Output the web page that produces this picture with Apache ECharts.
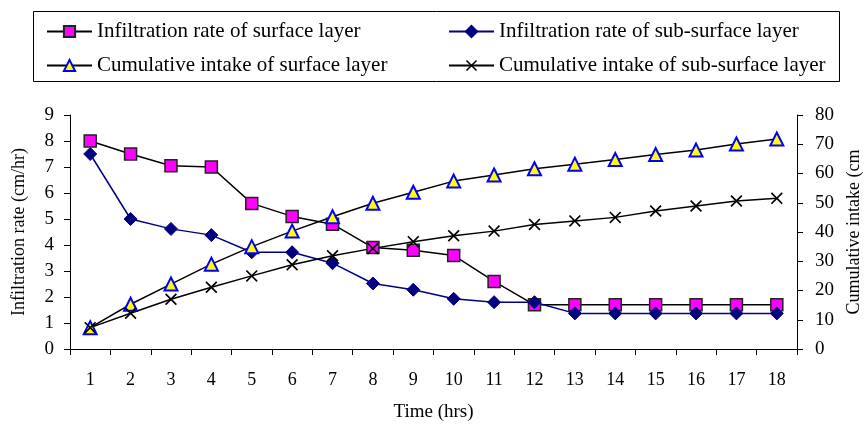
<!DOCTYPE html>
<html>
<head>
<meta charset="utf-8">
<script src="https://cdn.jsdelivr.net/npm/echarts@6/dist/echarts.min.js"></script>
<style>html,body{margin:0;padding:0;background:#fff;}#c{width:864px;height:426px;}</style>
</head>
<body>
<div id="c"></div>
<script>
const categories = ['1','2','3','4','5','6','7','8','9','10','11','12','13','14','15','16','17','18'];
const surfaceRate = [8.0, 7.5, 7.05, 7.0, 5.6, 5.1, 4.8, 3.9, 3.8, 3.6, 2.6, 1.7, 1.7, 1.7, 1.7, 1.7, 1.7, 1.7];
const subSurfaceRate = [7.5, 5.0, 4.62, 4.38, 3.72, 3.72, 3.3, 2.52, 2.28, 1.93, 1.8, 1.8, 1.37, 1.37, 1.37, 1.37, 1.37, 1.37];
const surfaceCum = [7.3, 15.3, 22.2, 29.0, 35.0, 40.3, 45.2, 49.8, 53.6, 57.4, 59.5, 61.6, 63.2, 64.8, 66.5, 68.0, 70.1, 71.8];
const subSurfaceCum = [7.3, 12.2, 17.0, 21.1, 25.0, 28.8, 31.9, 34.4, 36.7, 38.7, 40.3, 42.6, 43.8, 45.0, 47.2, 48.9, 50.6, 51.5];
const names = ['Infiltration rate of surface layer','Infiltration rate of sub-surface layer','Cumulative intake of surface layer','Cumulative intake of sub-surface layer'];

const FONT = "'Liberation Serif','Times New Roman',serif";
const xPath = 'path://M0,1L1,0L5,4L9,0L10,1L6,5L10,9L9,10L5,6L1,10L0,9L4,5Z';
const chart = echarts.init(document.getElementById('c'), null, {renderer:'canvas'});
const legendText = {fontFamily: FONT, fontSize: 21, color: '#000'};
chart.setOption({
  animation: false,
  backgroundColor: '#fff',
  textStyle: {fontFamily: FONT},
  graphic: [{type:'rect', shape:{x:33.5, y:11.5, width:806, height:70}, style:{fill:'none', stroke:'#000', lineWidth:1}, z:-1}],
  legend: [
    {left: 41, top: 16, orient: 'vertical', itemGap: 13, itemWidth: 45, itemHeight: 14, textStyle: legendText, data: [names[0], names[2]]},
    {left: 443, top: 16, orient: 'vertical', itemGap: 13, itemWidth: 45, itemHeight: 14, textStyle: legendText, data: [names[1], names[3]]}
  ],
  grid: {left: 70, right: 67, top: 115, bottom: 77, containLabel: false, outerBoundsMode: 'none'},
  xAxis: {
    type: 'category', data: categories, boundaryGap: true,
    name: 'Time (hrs)', nameLocation: 'middle', nameGap: 54,
    nameTextStyle: {fontFamily: FONT, fontSize: 19, color: '#000'},
    axisLine: {lineStyle: {color: '#000', width: 1}},
    axisTick: {show: true, length: 6, lineStyle: {color: '#000'}},
    axisLabel: {fontFamily: FONT, fontSize: 18, color: '#000', margin: 22, interval: 0}
  },
  yAxis: [
    {type: 'value', min: 0, max: 9, interval: 1, position: 'left',
     name: 'Infiltration rate (cm/hr)', nameLocation: 'middle', nameGap: 42, nameRotate: 90,
     nameTextStyle: {fontFamily: FONT, fontSize: 18, color: '#000'},
     axisLine: {show: true, lineStyle: {color: '#000'}},
     axisTick: {show: true, length: 6, lineStyle: {color: '#000'}},
     axisLabel: {fontFamily: FONT, fontSize: 19, color: '#000', margin: 16},
     splitLine: {show: false}},
    {type: 'value', min: 0, max: 80, interval: 10, position: 'right',
     name: 'Cumulative intake (cm', nameLocation: 'middle', nameGap: 48, nameRotate: 90,
     nameTextStyle: {fontFamily: FONT, fontSize: 18, color: '#000'},
     axisLine: {show: true, lineStyle: {color: '#000'}},
     axisTick: {show: true, length: 6, lineStyle: {color: '#000'}},
     axisLabel: {fontFamily: FONT, fontSize: 19, color: '#000', margin: 18},
     splitLine: {show: false}}
  ],
  series: [
    {name: names[0], type: 'line', yAxisIndex: 0, data: surfaceRate, symbol: 'rect', symbolSize: 12,
     lineStyle: {color: '#000', width: 1.5}, itemStyle: {color: '#FF00FF', borderColor: '#222', borderWidth: 1.5}},
    {name: names[1], type: 'line', yAxisIndex: 0, data: subSurfaceRate, symbol: 'diamond', symbolSize: 13,
     lineStyle: {color: '#000080', width: 1.5}, itemStyle: {color: '#000080', borderColor: '#000080', borderWidth: 1}},
    {name: names[2], type: 'line', yAxisIndex: 1, data: surfaceCum, symbol: 'triangle', symbolSize: 13,
     lineStyle: {color: '#000', width: 1.5}, itemStyle: {color: '#FFFF00', borderColor: '#0000FF', borderWidth: 2}},
    {name: names[3], type: 'line', yAxisIndex: 1, data: subSurfaceCum, symbol: xPath, symbolSize: 12,
     lineStyle: {color: '#000', width: 1.5}, itemStyle: {color: '#000', borderWidth: 0}}
  ]
});
</script>
</body>
</html>
